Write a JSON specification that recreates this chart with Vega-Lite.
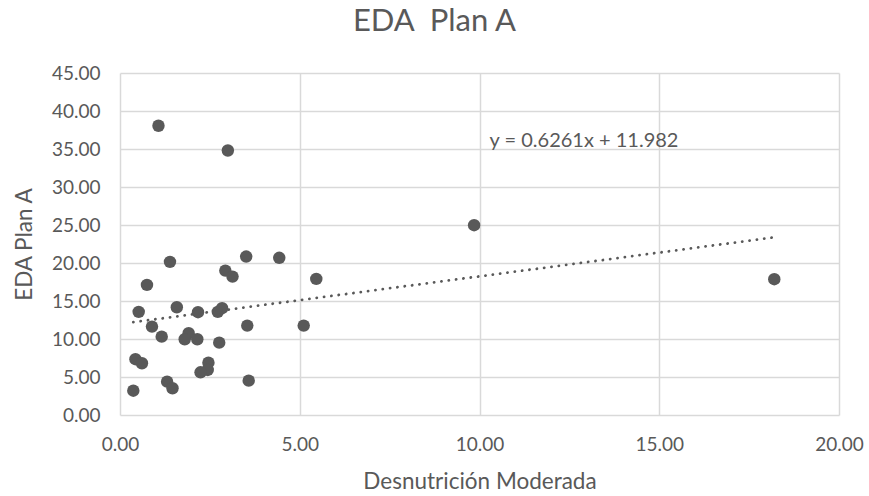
{
  "$schema": "https://vega.github.io/schema/vega-lite/v6.json",
  "width": 719,
  "height": 342,
  "autosize": {"type": "none"},
  "padding": {"left": 120, "top": 73, "right": 30, "bottom": 81},
  "background": "white",
  "config": {
    "view": {"stroke": null},
    "font": "Lato",
    "axis": {
      "grid": true,
      "gridColor": "#d9d9d9",
      "gridWidth": 1.5,
      "domain": false,
      "ticks": false,
      "labelFont": "Lato",
      "labelFontSize": 19,
      "labelColor": "#595959",
      "labelPadding": 20,
      "labelFlush": false,
      "labelOverlap": false,
      "titleFont": "Lato",
      "titleFontSize": 22.5,
      "titleFontWeight": "normal",
      "titleColor": "#595959"
    }
  },
  "title": {
    "text": "EDA\u00a0 Plan A",
    "font": "Lato",
    "fontSize": 31,
    "fontWeight": "normal",
    "color": "#595959",
    "anchor": "middle",
    "frame": "group",
    "dx": -45,
    "offset": 26
  },
  "datasets": {
    "puntos": [
      {"desnutricion": 1.07, "eda": 38.06},
      {"desnutricion": 3.00, "eda": 34.80},
      {"desnutricion": 1.39, "eda": 20.15},
      {"desnutricion": 3.51, "eda": 20.85},
      {"desnutricion": 4.43, "eda": 20.68},
      {"desnutricion": 2.93, "eda": 19.00},
      {"desnutricion": 3.13, "eda": 18.21},
      {"desnutricion": 5.46, "eda": 17.91},
      {"desnutricion": 0.75, "eda": 17.12},
      {"desnutricion": 0.52, "eda": 13.57},
      {"desnutricion": 1.58, "eda": 14.18},
      {"desnutricion": 2.17, "eda": 13.53},
      {"desnutricion": 2.72, "eda": 13.57},
      {"desnutricion": 2.84, "eda": 14.05},
      {"desnutricion": 0.89, "eda": 11.63},
      {"desnutricion": 3.54, "eda": 11.76},
      {"desnutricion": 5.11, "eda": 11.76},
      {"desnutricion": 1.16, "eda": 10.31},
      {"desnutricion": 1.91, "eda": 10.76},
      {"desnutricion": 1.80, "eda": 9.97},
      {"desnutricion": 2.15, "eda": 9.97},
      {"desnutricion": 2.76, "eda": 9.52},
      {"desnutricion": 0.43, "eda": 7.34},
      {"desnutricion": 0.61, "eda": 6.81},
      {"desnutricion": 2.46, "eda": 6.89},
      {"desnutricion": 2.44, "eda": 5.93},
      {"desnutricion": 2.24, "eda": 5.62},
      {"desnutricion": 1.31, "eda": 4.39},
      {"desnutricion": 1.46, "eda": 3.52},
      {"desnutricion": 3.58, "eda": 4.52},
      {"desnutricion": 0.37, "eda": 3.20},
      {"desnutricion": 9.85, "eda": 24.98},
      {"desnutricion": 18.20, "eda": 17.87}
    ],
    "tendencia": [
      {"desnutricion": 0.37, "eda": 12.214},
      {"desnutricion": 18.20, "eda": 23.377}
    ],
    "ecuacion": [
      {"desnutricion": 10.28, "eda": 36.1, "texto": "y = 0.6261x + 11.982"}
    ]
  },
  "encoding": {
    "x": {
      "field": "desnutricion",
      "type": "quantitative",
      "title": "Desnutrición Moderada",
      "scale": {"domain": [0, 20], "nice": false, "zero": false},
      "axis": {"values": [0, 5, 10, 15, 20], "format": ".2f", "titlePadding": 16}
    },
    "y": {
      "field": "eda",
      "type": "quantitative",
      "title": "EDA Plan A",
      "scale": {"domain": [0, 45], "nice": false, "zero": false},
      "axis": {"values": [0, 5, 10, 15, 20, 25, 30, 35, 40, 45], "format": ".2f", "titlePadding": 15}
    }
  },
  "layer": [
    {
      "data": {"name": "puntos"},
      "mark": {"type": "circle", "size": 155, "color": "#595959", "opacity": 1}
    },
    {
      "data": {"name": "tendencia"},
      "mark": {"type": "line", "color": "#595959", "strokeWidth": 2.8, "strokeDash": [0.1, 7.3], "strokeCap": "round"}
    },
    {
      "data": {"name": "ecuacion"},
      "mark": {"type": "text", "font": "Lato", "fontSize": 20, "color": "#595959", "align": "left", "baseline": "middle"},
      "encoding": {
        "text": {"field": "texto"}
      }
    }
  ]
}
